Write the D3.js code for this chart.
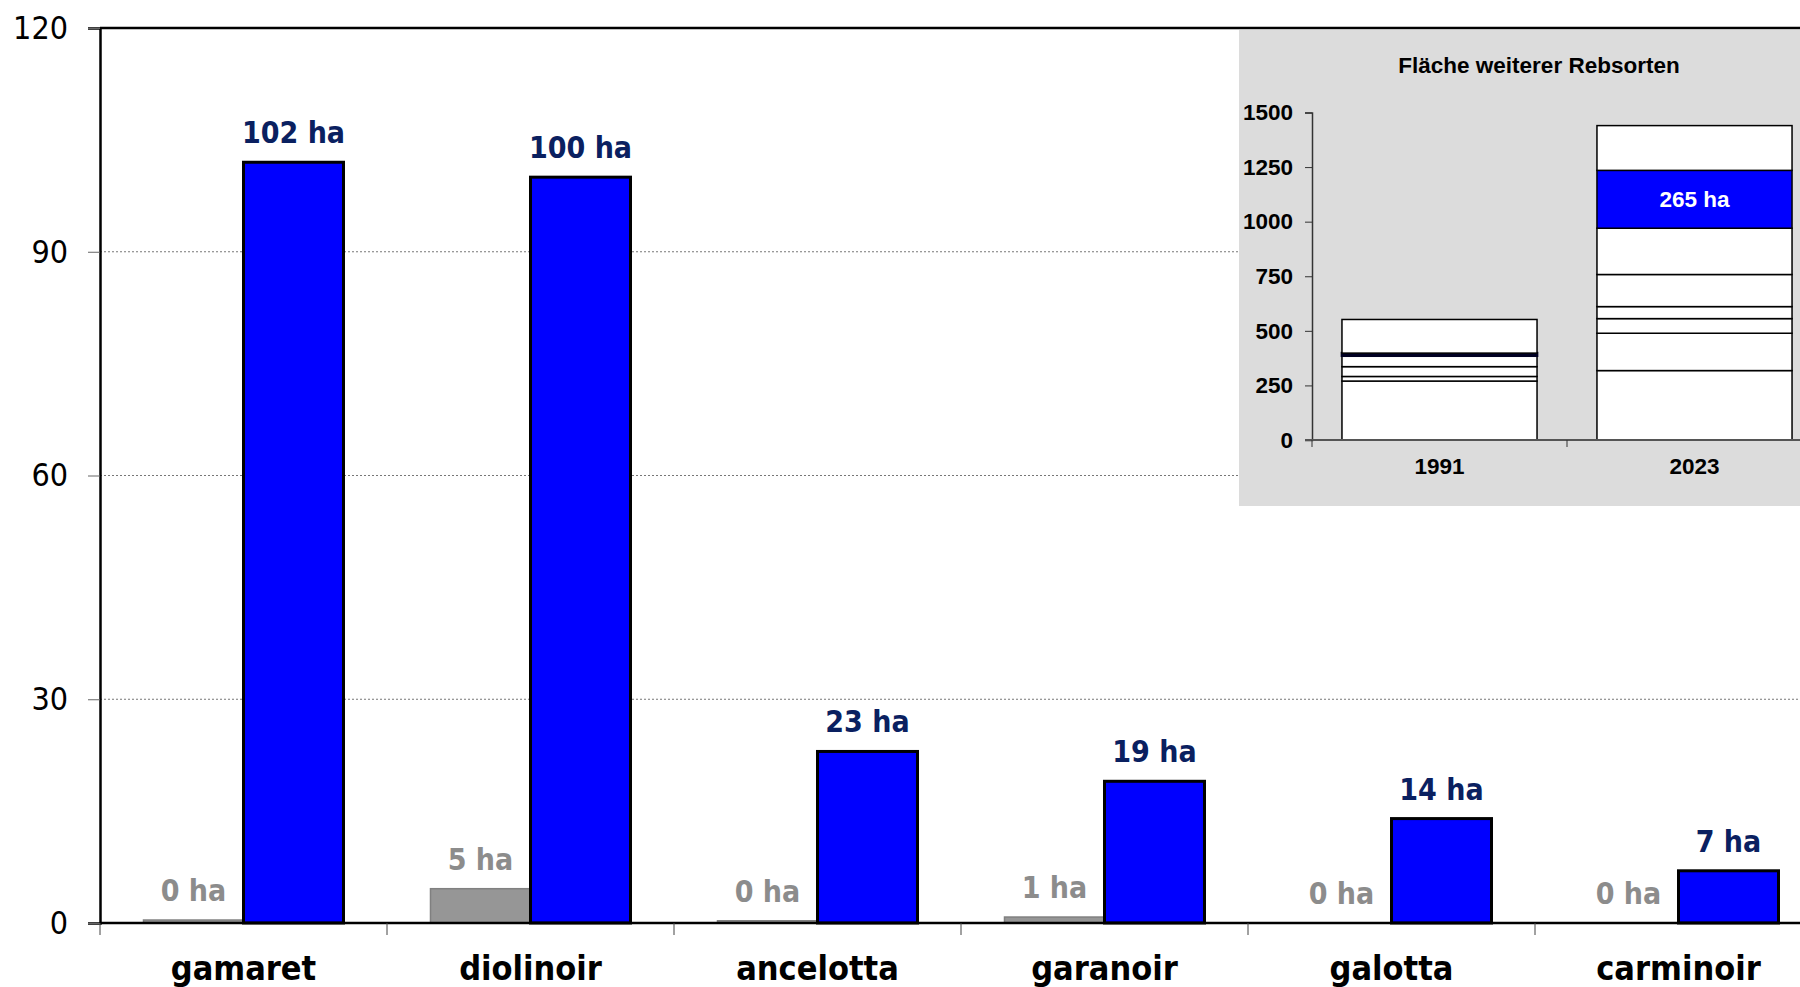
<!DOCTYPE html>
<html lang="de">
  <head>
    <meta charset="UTF-8" />
    <title>Rebsorten Fläche</title>
    <script src="https://d3js.org/d3.v7.min.js"></script>
    <style>
      body { margin: 0; background: white; }
      .main-text { font-family: "DejaVu Sans", sans-serif; font-stretch: condensed; }
      .inset-text { font-family: "Liberation Sans", Arial, sans-serif; font-weight: bold; }
    </style>
  </head>
  <body>
    <svg id="chart" width="1800" height="987"></svg>
    <script>
      // Main chart data
      const categories = ["gamaret", "diolinoir", "ancelotta", "garanoir", "galotta", "carminoir"];
      const years = ["1991", "2023"];
      const area1991 = [0.4, 4.6, 0.3, 0.8, 0, 0];
      const area2023 = [102, 100, 23, 19, 14, 7];
      const yTicks = [0, 30, 60, 90, 120];

      // Inset data (stacked layers, bottom to top)
      const insetLayers = ["s1", "s2", "s3", "s4", "s5", "s6", "neu", "rest"];
      const inset1991 = [270, 21, 45, 50, 0, 0, 12, 154];
      const inset2023 = [318, 171, 67, 55, 147, 212, 265, 205];
      const insetTicks = [0, 250, 500, 750, 1000, 1250, 1500];
      const insetTitle = "Fläche weiterer Rebsorten";

      const svg = d3.select("#chart");

      // scales
      const x = d3.scaleBand().domain(categories).range([100, 1822]);
      const x1 = d3.scaleBand().domain(years).range([0, x.bandwidth()]).paddingOuter(0.435);
      const y = d3.scaleLinear().domain([0, 120]).range([923, 28]);

      const rows = categories.map((c, i) => ({ cat: c, "1991": area1991[i], "2023": area2023[i] }));

      // gridlines
      svg.append("g")
        .selectAll("line")
        .data(yTicks.filter((d) => d > 0 && d < 120))
        .join("line")
        .attr("x1", 100)
        .attr("x2", 1800)
        .attr("y1", (d) => y(d))
        .attr("y2", (d) => y(d))
        .attr("stroke", "#777")
        .attr("stroke-width", 1)
        .attr("stroke-dasharray", "2,2");

      // top border
      svg.append("line")
        .attr("x1", 100).attr("x2", 1800)
        .attr("y1", y(120)).attr("y2", y(120))
        .attr("stroke", "black").attr("stroke-width", 2.5);

      // bars
      const groups = svg.append("g")
        .selectAll("g")
        .data(rows)
        .join("g")
        .attr("transform", (d) => `translate(${x(d.cat)},0)`);

      groups.filter((d) => d["1991"] > 0)
        .append("rect")
        .attr("x", x1("1991"))
        .attr("width", x1.bandwidth())
        .attr("y", (d) => y(d["1991"]))
        .attr("height", (d) => y(0) - y(d["1991"]))
        .attr("fill", "#969696")
        .attr("stroke", "#808080")
        .attr("stroke-width", 1.5);

      groups.append("rect")
        .attr("x", x1("2023"))
        .attr("width", x1.bandwidth())
        .attr("y", (d) => y(d["2023"]))
        .attr("height", (d) => y(0) - y(d["2023"]))
        .attr("fill", "#0000ff")
        .attr("stroke", "black")
        .attr("stroke-width", 3);

      // value labels
      groups.append("text")
        .attr("class", "main-text")
        .attr("x", x1("1991") + x1.bandwidth() / 2)
        .attr("y", (d) => y(d["1991"]) - 19)
        .attr("text-anchor", "middle")
        .attr("font-size", 30)
        .attr("font-weight", "bold")
        .attr("fill", "#8c8c8c")
        .text((d) => Math.round(d["1991"]) + " ha");

      groups.append("text")
        .attr("class", "main-text")
        .attr("x", x1("2023") + x1.bandwidth() / 2)
        .attr("y", (d) => y(d["2023"]) - 19)
        .attr("text-anchor", "middle")
        .attr("font-size", 30)
        .attr("font-weight", "bold")
        .attr("fill", "#0a2060")
        .text((d) => Math.round(d["2023"]) + " ha");

      // y axis
      const yAxis = svg.append("g")
        .attr("transform", "translate(100,0)")
        .call(d3.axisLeft(y).tickValues(yTicks).tickSize(12).tickPadding(20));
      yAxis.select(".domain").attr("stroke", "black").attr("stroke-width", 2.5);
      yAxis.selectAll(".tick line").attr("stroke", "#666");
      yAxis.selectAll("text")
        .attr("class", "main-text")
        .attr("font-size", 32)
        .attr("fill", "black");

      // x axis line + boundary ticks
      svg.append("line")
        .attr("x1", 100).attr("x2", 1800)
        .attr("y1", y(0)).attr("y2", y(0))
        .attr("stroke", "black").attr("stroke-width", 2.5);

      svg.append("g")
        .selectAll("line")
        .data(categories)
        .join("line")
        .attr("x1", (d) => x(d))
        .attr("x2", (d) => x(d))
        .attr("y1", y(0))
        .attr("y2", y(0) + 12)
        .attr("stroke", "#444");

      svg.append("g")
        .selectAll("text")
        .data(categories)
        .join("text")
        .attr("class", "main-text")
        .attr("x", (d) => x(d) + x.bandwidth() / 2)
        .attr("y", 980)
        .attr("text-anchor", "middle")
        .attr("font-size", 34)
        .attr("font-weight", "bold")
        .attr("fill", "black")
        .text((d) => d);

      // ---- inset ----
      svg.append("rect")
        .attr("x", 1239).attr("y", 30)
        .attr("width", 561).attr("height", 476)
        .attr("fill", "#dcdcdc");

      svg.append("text")
        .attr("class", "inset-text")
        .attr("x", 1539).attr("y", 73)
        .attr("text-anchor", "middle")
        .attr("font-size", 22.5)
        .attr("fill", "black")
        .text(insetTitle);

      const ix = d3.scaleBand().domain(years).range([1312, 1822]).paddingInner(0.235).paddingOuter(0.1175);
      const iy = d3.scaleLinear().domain([0, 1500]).range([440, 112.5]);

      const insetRows = years.map((yr, j) => {
        const vals = j === 0 ? inset1991 : inset2023;
        const r = { year: yr };
        insetLayers.forEach((k, i) => (r[k] = vals[i]));
        return r;
      });
      const stacked = d3.stack().keys(insetLayers)(insetRows);

      svg.append("g")
        .selectAll("g")
        .data(stacked)
        .join("g")
        .attr("fill", (d) => (d.key === "neu" ? "#0000ff" : "white"))
        .selectAll("rect")
        .data((d) => d.filter((s) => s[1] - s[0] > 0).map((s) => Object.assign(s, { key: d.key })))
        .join("rect")
        .attr("x", (d) => ix(d.data.year))
        .attr("width", ix.bandwidth())
        .attr("y", (d) => iy(d[1]))
        .attr("height", (d) => iy(d[0]) - iy(d[1]))
        .attr("stroke", (d) => (d.key === "neu" && d.data.year === "1991" ? "#000022" : "black"))
        .attr("stroke-width", (d) => (d.key === "neu" && d.data.year === "1991" ? 2.6 : 1.5));

      const neu = stacked.find((s) => s.key === "neu")[1];
      svg.append("text")
        .attr("class", "inset-text")
        .attr("x", ix("2023") + ix.bandwidth() / 2)
        .attr("y", iy((neu[0] + neu[1]) / 2) + 8)
        .attr("text-anchor", "middle")
        .attr("font-size", 22.5)
        .attr("fill", "white")
        .text(inset2023[6] + " ha");

      const iyAxis = svg.append("g")
        .attr("transform", "translate(1312,0)")
        .call(d3.axisLeft(iy).tickValues(insetTicks).tickFormat(d3.format("d")).tickSize(7).tickPadding(12));
      iyAxis.select(".domain").attr("stroke", "#333").attr("stroke-width", 1.5);
      iyAxis.selectAll(".tick line").attr("stroke", "#333");
      iyAxis.selectAll("text")
        .attr("class", "inset-text")
        .attr("font-size", 22.5)
        .attr("fill", "black");

      svg.append("line")
        .attr("x1", 1305).attr("x2", 1800)
        .attr("y1", iy(0)).attr("y2", iy(0))
        .attr("stroke", "#555").attr("stroke-width", 2);

      svg.append("g")
        .selectAll("line")
        .data(years)
        .join("line")
        .attr("x1", (d) => ix(d) - ix.step() * ix.paddingInner() / 2)
        .attr("x2", (d) => ix(d) - ix.step() * ix.paddingInner() / 2)
        .attr("y1", iy(0))
        .attr("y2", iy(0) + 7)
        .attr("stroke", "#333");

      svg.append("g")
        .selectAll("text")
        .data(years)
        .join("text")
        .attr("class", "inset-text")
        .attr("x", (d) => ix(d) + ix.bandwidth() / 2)
        .attr("y", 474)
        .attr("text-anchor", "middle")
        .attr("font-size", 22.5)
        .attr("fill", "black")
        .text((d) => d);
    </script>
  </body>
</html>
